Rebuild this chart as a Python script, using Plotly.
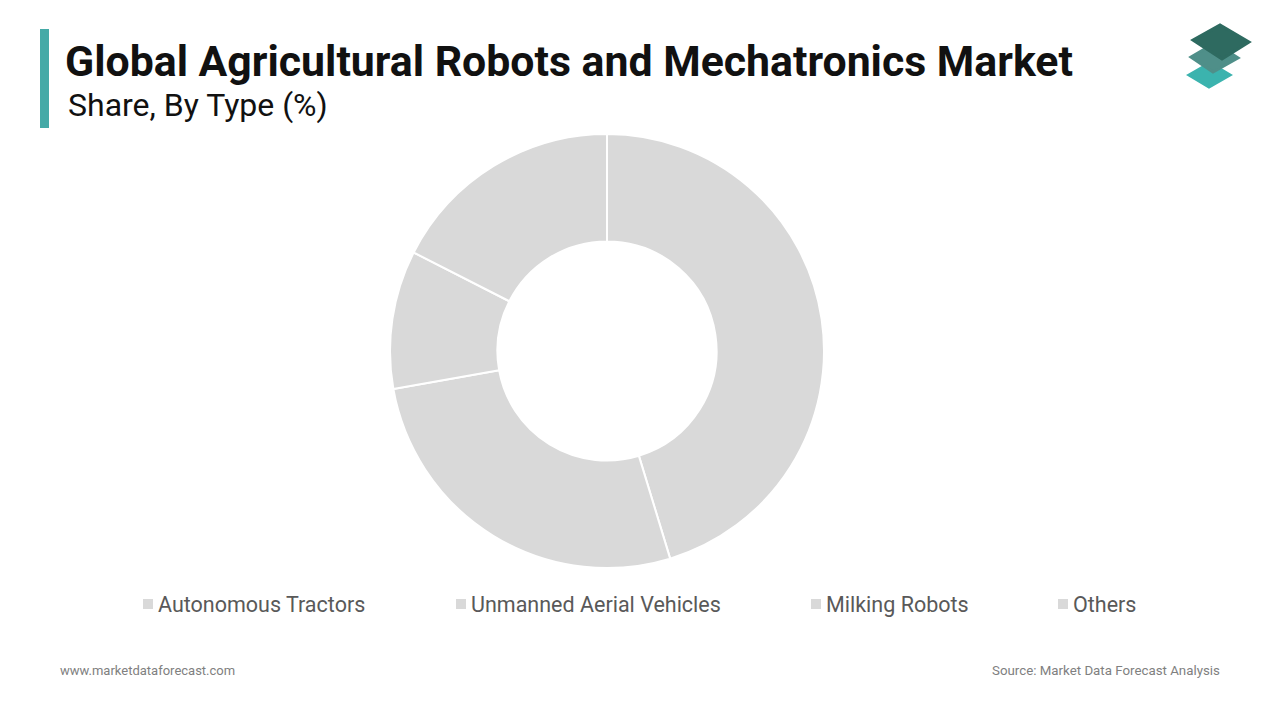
import plotly.graph_objects as go

title = "Global Agricultural Robots and Mechatronics Market"
subtitle = "Share, By Type (%)"
categories = ["Autonomous Tractors", "Unmanned Aerial Vehicles", "Milking Robots", "Others"]
shares = [45.3, 26.9, 10.3, 17.5]
slice_color = "#d9d9d9"
legend_x = [143, 456, 811, 1058]  # pixel x of each legend marker

W, H = 1280, 720
cx, cy, R = 607, 351, 217

fig = go.Figure()
fig.add_trace(go.Pie(
    labels=categories, values=shares, hole=0.505, sort=False,
    direction="clockwise", rotation=0,
    marker=dict(colors=[slice_color] * len(categories), line=dict(color="white", width=2)),
    textinfo="none", hoverinfo="label+percent", showlegend=False,
    domain=dict(x=[(cx - R) / W, (cx + R) / W], y=[(H - cy - R) / H, (H - cy + R) / H]),
))

def px(x):
    return x / W

def py(y):
    return 1 - y / H

shapes = []
annotations = []
# title bar
shapes.append(dict(type="rect", xref="paper", yref="paper", x0=px(40), x1=px(49), y0=py(128), y1=py(29),
                   fillcolor="#45aaa7", line=dict(width=0)))
annotations.append(dict(text="<b>" + title + "</b>", x=px(63), y=py(61), xref="paper", yref="paper",
                        xanchor="left", yanchor="middle", showarrow=False,
                        font=dict(family="Roboto", size=42.8, color="#111111")))
annotations.append(dict(text=subtitle, x=px(66), y=py(105), xref="paper", yref="paper",
                        xanchor="left", yanchor="middle", showarrow=False,
                        font=dict(family="Roboto", size=32, color="#111111")))

# legend
for name, lx in zip(categories, legend_x):
    shapes.append(dict(type="rect", xref="paper", yref="paper", x0=px(lx), x1=px(lx + 10),
                       y0=py(609), y1=py(599), fillcolor=slice_color, line=dict(width=0)))
    annotations.append(dict(text=name, x=px(lx + 13), y=py(604), xref="paper", yref="paper",
                            xanchor="left", yanchor="middle", showarrow=False,
                            font=dict(family="Roboto", size=21.5, color="#595959")))

# footer
annotations.append(dict(text="www.marketdataforecast.com", x=px(58), y=py(670), xref="paper", yref="paper",
                        xanchor="left", yanchor="middle", showarrow=False,
                        font=dict(family="Roboto", size=13, color="#808080")))
annotations.append(dict(text="Source: Market Data Forecast Analysis", x=px(1222), y=py(670), xref="paper", yref="paper",
                        xanchor="right", yanchor="middle", showarrow=False,
                        font=dict(family="Roboto", size=13.3, color="#808080")))

# logo: three stacked rhombi
def rhombus(pts, color):
    path = "M " + " L ".join(f"{px(x)},{py(y)}" for x, y in pts) + " Z"
    return dict(type="path", xref="paper", yref="paper", path=path, fillcolor=color,
                line=dict(color=color, width=3), layer="above")

shapes.append(rhombus([(1189, 75), (1210, 63), (1230, 75), (1209, 87)], "#3bb3ae"))
shapes.append(rhombus([(1191, 57), (1215, 43), (1238, 58), (1213, 72)], "#4f8f89"))
shapes.append(rhombus([(1193, 40), (1220, 25), (1249, 42), (1222, 59)], "#2e6a60"))

fig.update_layout(
    width=W, height=H, margin=dict(l=0, r=0, t=0, b=0),
    paper_bgcolor="white", plot_bgcolor="white",
    shapes=shapes, annotations=annotations,
    font=dict(family="Roboto"),
)
fig.write_html("out.html", config={"displayModeBar": False},
               post_script="document.body.style.margin='0px';")
